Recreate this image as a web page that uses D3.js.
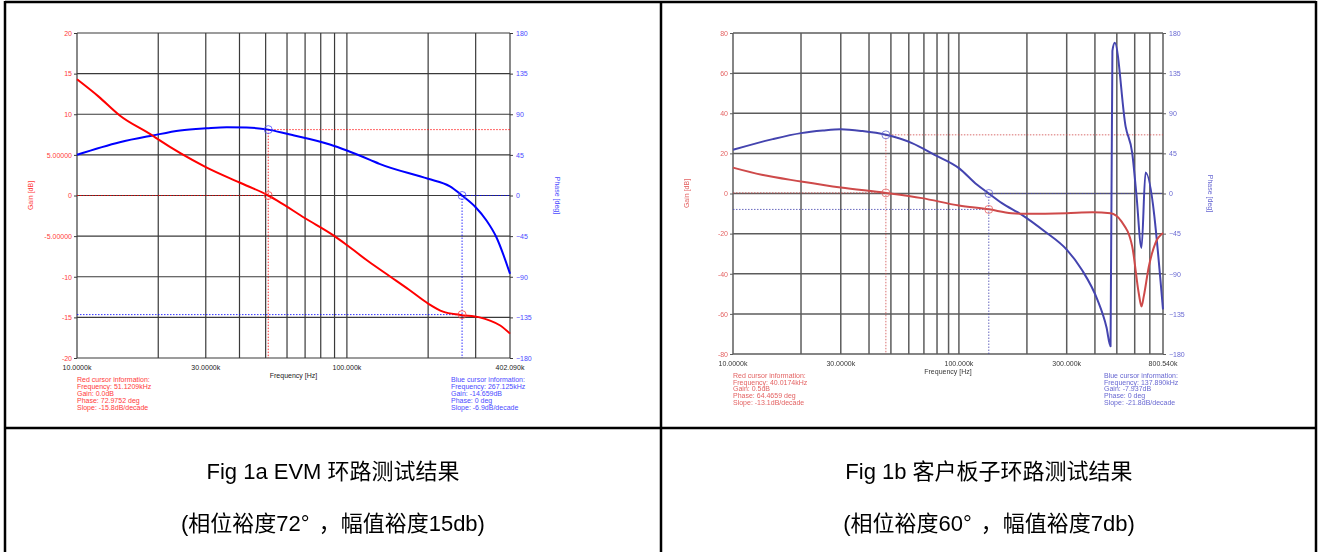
<!DOCTYPE html>
<html>
<head>
<meta charset="utf-8">
<script src="https://cdn.jsdelivr.net/npm/d3@7"></script>
<style>
  body { margin: 0; background: #fff; }
  svg text { font-family: "Liberation Sans", Arial, sans-serif; }
  .cap { font-family: "Liberation Sans", "Noto Sans CJK SC", sans-serif; font-size: 22px; fill: #000; }
</style>
</head>
<body>
<svg id="chart" width="1322" height="552"></svg>
<script>
// ---- Fig 1a : EVM (frequency in kHz) ----
const evmGainFreq = [10, 12, 14.4, 19.1, 20, 30, 40, 51.12, 55, 70, 90, 100, 120, 145, 170, 200, 227, 263, 310, 339, 370, 402.09];
const evmGain     = [14.3, 12.2, 9.85, 7.35, 6.9, 3.5, 1.6, 0, -0.6, -2.8, -5.0, -6.1, -8.1, -10.0, -11.6, -13.3, -14.3, -14.7, -15.0, -15.4, -16.0, -17.0];
const evmPhaseFreq = [10, 14.4, 19.1, 24.1, 30.2, 35.9, 42.5, 51.12, 60, 86.5, 100, 121.8, 132, 200, 240, 267.1, 300, 329, 358, 402.09];
const evmPhase     = [45.1, 59.0, 66.5, 72, 74.5, 75.7, 75.3, 72.98, 68.3, 56.5, 49.8, 39.5, 35.1, 18.5, 10.3, 0, -13, -27.7, -46.2, -86.7];
const evmGainTicks = ["20", "15", "10", "5.00000", "0", "-5.00000", "-10", "-15", "-20"];
const evmGridFreq = [20, 30, 40, 50, 60, 70, 80, 90, 100, 200, 300];
const evmFreqLabels = [[10, "10.0000k"], [30, "30.0000k"], [100, "100.000k"], [402.09, "402.090k"]];
const evmRedCursor = { f: 51.12, gain: 0, phase: 72.98 };
const evmBlueCursor = { f: 267.125, gain: -14.659, phase: 0 };
const evmRedInfo = ["Red cursor information:", "Frequency: 51.1209kHz", "Gain: 0.0dB", "Phase: 72.9752 deg", "Slope: -15.8dB/decade"];
const evmBlueInfo = ["Blue cursor information:", "Frequency: 267.125kHz", "Gain: -14.659dB", "Phase: 0 deg", "Slope: -6.9dB/decade"];

// ---- Fig 1b : customer board ----
const custGainFreq = [10, 13.4, 20, 30, 47.5, 68.6, 100, 135.6, 171, 203, 300, 390, 469, 524, 585, 625, 643, 658, 693, 741, 800.54];
const custGain     = [12.9, 9.3, 6.0, 3.0, 0.3, -2.3, -6.0, -7.9, -9.8, -10.1, -9.8, -9.4, -9.8, -13.9, -26.4, -49.6, -56.3, -51.3, -36.4, -24.7, -19.7];
const custPhaseFreq = [10, 15, 20, 25, 30, 37.4, 47.5, 62, 78, 100, 120, 135.6, 155, 190, 240, 300, 350, 410, 450, 469, 478, 490, 547, 585, 610, 643, 670, 800.54];
const custPhase     = [49, 61, 67.7, 70.6, 72, 70, 65.8, 56.5, 43.4, 28.5, 10, 0, -10.8, -23.9, -42.6, -63, -85.5, -119, -150, -171.4, 160, 169, 75, 45.3, 0, -61, 23.5, -130];
const custGainTicks = ["80", "60", "40", "20", "0", "-20", "-40", "-60", "-80"];
const custGridFreq = [20, 30, 40, 50, 60, 70, 80, 90, 100, 200, 300, 400, 500, 600, 700];
const custFreqLabels = [[10, "10.0000k"], [30, "30.0000k"], [100, "100.000k"], [300, "300.000k"], [800.54, "800.540k"]];
const custRedCursor = { f: 47.5, gain: 0.3, phase: 65.8 };
const custBlueCursor = { f: 135.6, gain: -7.937, phase: 0 };
const custRedInfo = ["Red cursor information:", "Frequency: 40.0174kHz", "Gain: 0.5dB", "Phase: 64.4659 deg", "Slope: -13.1dB/decade"];
const custBlueInfo = ["Blue cursor information:", "Frequency: 137.890kHz", "Gain: -7.937dB", "Phase: 0 deg", "Slope: -21.8dB/decade"];

const phaseTicks = [180, 135, 90, 45, 0, -45, -90, -135, -180];

const svg = d3.select("#chart");
svg.append("rect").attr("width", 1322).attr("height", 552).attr("fill", "#fff");

function drawBode(o) {
  const g = svg.append("g").attr("opacity", o.opacity || 1);
  const x = d3.scaleLog().domain(o.fDomain).range([o.x0, o.x1]);
  const yG = d3.scaleLinear().domain(o.gDomain).range([o.y1, o.y0]);
  const yP = d3.scaleLinear().domain([-180, 180]).range([o.y1, o.y0]);

  // grid
  const gridVals = d3.range(o.gDomain[0], o.gDomain[1] + 0.1, (o.gDomain[1] - o.gDomain[0]) / 8);
  g.append("g").selectAll("line").data(gridVals).join("line")
    .attr("x1", o.x0).attr("x2", o.x1)
    .attr("y1", d => yG(d)).attr("y2", d => yG(d))
    .attr("stroke", o.grid).attr("stroke-width", o.gridW);
  g.append("g").selectAll("line").data(o.gridFreq.concat(o.fDomain)).join("line")
    .attr("x1", d => x(d)).attr("x2", d => x(d))
    .attr("y1", o.y0).attr("y2", o.y1)
    .attr("stroke", o.grid).attr("stroke-width", o.gridW);

  // left gain axis
  const axL = g.append("g").attr("transform", `translate(${o.x0},0)`)
    .call(d3.axisLeft(yG).tickValues(gridVals.slice().reverse()).tickSize(3).tickPadding(2)
      .tickFormat((d, i) => o.gainTicks[i]));
  axL.select(".domain").remove();
  axL.selectAll("line").attr("stroke", o.grid);
  axL.selectAll("text").attr("fill", o.redText).style("font-size", "7px");

  // right phase axis
  const axR = g.append("g").attr("transform", `translate(${o.x1},0)`)
    .call(d3.axisRight(yP).tickValues(phaseTicks).tickSize(3).tickPadding(3));
  axR.select(".domain").remove();
  axR.selectAll("line").attr("stroke", o.grid);
  axR.selectAll("text").attr("fill", o.blueText).style("font-size", "7px");

  // frequency labels
  g.append("g").selectAll("text").data(o.freqLabels).join("text")
    .attr("x", d => x(d[0])).attr("y", o.y1 + o.labelDy)
    .attr("text-anchor", "middle").attr("font-size", 7).attr("fill", "#222")
    .text(d => d[1]);
  g.append("text").attr("x", (o.x0 + o.x1) / 2).attr("y", o.y1 + o.labelDy + 8)
    .attr("text-anchor", "middle").attr("font-size", 7).attr("fill", "#222")
    .text("Frequency [Hz]");
  g.append("text").attr("transform", `translate(${o.gainTitleX},${(o.y0 + o.y1) / 2}) rotate(-90)`)
    .attr("text-anchor", "middle").attr("font-size", 7).attr("fill", o.redText).text("Gain [dB]");
  g.append("text").attr("transform", `translate(${o.phaseTitleX},${(o.y0 + o.y1) / 2}) rotate(90)`)
    .attr("text-anchor", "middle").attr("font-size", 7).attr("fill", o.blueText).text("Phase [deg]");

  // cursors
  const dot = "1.5,1.5";
  const cursors = [[o.redCursor, o.redLine], [o.blueCursor, o.blueLine]];
  cursors.forEach(([c, col]) => {
    const cx = x(c.f);
    g.append("line").attr("x1", cx).attr("x2", cx).attr("y1", Math.min(yP(c.phase), yG(c.gain))).attr("y2", o.y1)
      .attr("stroke", col).attr("stroke-width", 1).attr("stroke-dasharray", dot).attr("opacity", 0.8);
    g.append("line").attr("x1", o.x0).attr("x2", cx).attr("y1", yG(c.gain)).attr("y2", yG(c.gain))
      .attr("stroke", col).attr("stroke-width", 1).attr("stroke-dasharray", dot).attr("opacity", 0.8);
    g.append("line").attr("x1", cx).attr("x2", o.x1).attr("y1", yP(c.phase)).attr("y2", yP(c.phase))
      .attr("stroke", col).attr("stroke-width", 1).attr("stroke-dasharray", dot).attr("opacity", 0.8);
  });

  // curves
  const lineG = d3.line().x((d, i) => x(o.gainFreq[i])).y(d => yG(d)).curve(d3.curveMonotoneX);
  const lineP = d3.line().x((d, i) => x(o.phaseFreq[i])).y(d => yP(d)).curve(d3.curveMonotoneX);
  g.append("path").attr("d", lineP(o.phase)).attr("fill", "none")
    .attr("stroke", o.blueLine).attr("stroke-width", o.lineW).attr("stroke-linejoin", "round");
  g.append("path").attr("d", lineG(o.gain)).attr("fill", "none")
    .attr("stroke", o.redLine).attr("stroke-width", o.lineW).attr("stroke-linejoin", "round");

  // cursor markers
  cursors.forEach(([c]) => {
    g.append("circle").attr("cx", x(c.f)).attr("cy", yG(c.gain)).attr("r", 4)
      .attr("fill", "none").attr("stroke", o.redText).attr("stroke-width", 0.8);
    g.append("circle").attr("cx", x(c.f)).attr("cy", yP(c.phase)).attr("r", 4)
      .attr("fill", "none").attr("stroke", o.blueText).attr("stroke-width", 0.8);
  });

  // cursor info
  const info = (lines, px, col) => g.append("g").selectAll("text").data(lines).join("text")
    .attr("x", px).attr("y", (d, i) => o.infoY + i * o.infoDy)
    .attr("font-size", 7).attr("fill", col).text(d => d);
  info(o.redInfo, o.x0, o.redText);
  info(o.blueInfo, o.blueInfoX, o.blueText);
}

drawBode({
  x0: 77, x1: 510, y0: 33, y1: 358, fDomain: [10, 402.09], gDomain: [-20, 20],
  gainFreq: evmGainFreq, gain: evmGain, phaseFreq: evmPhaseFreq, phase: evmPhase,
  gainTicks: evmGainTicks, gridFreq: evmGridFreq, freqLabels: evmFreqLabels,
  redCursor: evmRedCursor, blueCursor: evmBlueCursor, redInfo: evmRedInfo, blueInfo: evmBlueInfo,
  grid: "#3a3a3a", gridW: 1.2, lineW: 2, redLine: "#ff0000", blueLine: "#0000ff",
  redText: "#ff3b3b", blueText: "#4b4bff", labelDy: 12, gainTitleX: 33, phaseTitleX: 555,
  infoY: 382, infoDy: 7, blueInfoX: 451
});

drawBode({
  x0: 733, x1: 1163, y0: 33, y1: 354, fDomain: [10, 800.54], gDomain: [-80, 80],
  gainFreq: custGainFreq, gain: custGain, phaseFreq: custPhaseFreq, phase: custPhase,
  gainTicks: custGainTicks, gridFreq: custGridFreq, freqLabels: custFreqLabels,
  redCursor: custRedCursor, blueCursor: custBlueCursor, redInfo: custRedInfo, blueInfo: custBlueInfo,
  grid: "#4a4a4a", gridW: 1.5, lineW: 2, redLine: "#c93636", blueLine: "#2f2fa6",
  redText: "#e05050", blueText: "#5555cc", labelDy: 12, gainTitleX: 689, phaseTitleX: 1208,
  infoY: 378, infoDy: 6.7, blueInfoX: 1104, opacity: 0.9
});

// table frame
const frame = svg.append("g").attr("stroke", "#000").attr("stroke-width", 2.5);
[[5, 2, 1316, 2], [5, 428, 1316, 428], [5, 1, 5, 552], [661, 1, 661, 552], [1316, 1, 1316, 552]]
  .forEach(([a, b, c, d]) => frame.append("line").attr("x1", a).attr("y1", b).attr("x2", c).attr("y2", d));

// captions: second line is split so the gap after the degree sign can be widened
const captions = [
  [333, "Fig 1a EVM 环路测试结果", ["(相位裕度72°", "，幅值裕度15db)"]],
  [989, "Fig 1b 客户板子环路测试结果", ["(相位裕度60°", "，幅值裕度7db)"]]
];
captions.forEach(([cx, t1, t2]) => {
  svg.append("text").attr("class", "cap").attr("x", cx).attr("y", 479).attr("text-anchor", "middle").text(t1);
  const t = svg.append("text").attr("class", "cap").attr("x", cx).attr("y", 531).attr("text-anchor", "middle");
  t.append("tspan").text(t2[0]);
  t.append("tspan").attr("dx", 9).text(t2[1]);
});
</script>
</body>
</html>
